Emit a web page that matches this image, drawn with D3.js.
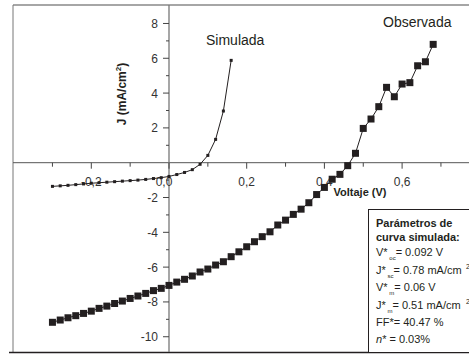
<!DOCTYPE html>
<html>
<head>
<meta charset="utf-8">
<script src="https://cdn.jsdelivr.net/npm/d3@7"></script>
<style>
  body { margin: 0; background: #fff; }
  svg { display: block; font-family: "Liberation Sans", Arial, sans-serif; }
  .tick-label { font-size: 12px; fill: #333; }
  .legend-text { font-size: 11px; fill: #231f20; }
</style>
</head>
<body>
<div id="chart"></div>
<script>
var W = 469, H = 356;

// curva simulada
var simV = [-0.30, -0.28, -0.26, -0.24, -0.22, -0.20, -0.18, -0.16, -0.14, -0.12, -0.10, -0.08,
            -0.06, -0.04, -0.02, 0.00, 0.02, 0.04, 0.06, 0.08, 0.10, 0.12, 0.14, 0.16];
var simJ = [-1.36, -1.33, -1.30, -1.26, -1.22, -1.18, -1.15, -1.12, -1.09, -1.06, -1.03, -1.00,
            -0.96, -0.91, -0.86, -0.79, -0.68, -0.56, -0.40, -0.09, 0.42, 1.34, 2.97, 5.88];

// curva observada
var obsV = [-0.30, -0.28, -0.26, -0.24, -0.22, -0.20, -0.18, -0.16, -0.14, -0.12, -0.10, -0.08,
            -0.06, -0.04, -0.02, 0.00, 0.02, 0.04, 0.06, 0.08, 0.10, 0.12, 0.14, 0.16, 0.18,
            0.20, 0.22, 0.24, 0.26, 0.28, 0.30, 0.32, 0.34, 0.36, 0.38, 0.40, 0.42, 0.44,
            0.46, 0.48, 0.50, 0.52, 0.54, 0.56, 0.58, 0.60, 0.62, 0.64, 0.66, 0.68];
var obsJ = [-9.17, -9.04, -8.91, -8.79, -8.66, -8.53, -8.37, -8.24, -8.09, -7.95, -7.80, -7.66,
            -7.51, -7.35, -7.22, -7.05, -6.86, -6.70, -6.51, -6.28, -6.11, -5.88, -5.69, -5.40, -5.12,
            -4.83, -4.54, -4.25, -3.97, -3.58, -3.30, -2.97, -2.67, -2.30, -1.83, -1.42, -0.95, -0.67,
            -0.17, 0.54, 1.97, 2.51, 3.22, 4.33, 3.79, 4.52, 4.60, 5.57, 5.80, 6.80];

var xTicksMajor = [-0.2, 0.0, 0.2, 0.4, 0.6];
var xTickLabels = ["-0,2", "0,0", "0,2", "0,4", "0,6"];
var xTicksMinor = [-0.3, -0.1, 0.1, 0.3, 0.5, 0.7];
var yTicksMajor = [-10, -8, -6, -4, -2, 2, 4, 6, 8];
var yTicksMinor = [-9, -7, -5, -3, -1, 1, 3, 5, 7];

var legendLines = [
    { main: "V*", sub: "oc", rest: "= 0.092 V", sup: "" },
    { main: "J*", sub: "sc", rest: "= 0.78 mA/cm", sup: "2" },
    { main: "V*", sub: "m", rest: "= 0.06 V", sup: "" },
    { main: "J*", sub: "m", rest: "= 0.51 mA/cm", sup: "2" },
    { main: "FF*= 40.47 %", sub: "", rest: "", sup: "" }
];

var x = d3.scaleLinear().domain([-0.4, 0.8]).range([13.6, 479.8]);
var y = d3.scaleLinear().domain([-10.9, 9.05]).range([352.4, 5.2]);

var svg = d3.select("#chart").append("svg")
    .attr("width", W)
    .attr("height", H);

// marco
svg.append("line").attr("x1", 13).attr("x2", W).attr("y1", 5).attr("y2", 5)
    .attr("stroke", "#888").attr("stroke-width", 1.5);
svg.append("line").attr("x1", 13).attr("x2", 13).attr("y1", 5).attr("y2", 353)
    .attr("stroke", "#777").attr("stroke-width", 1);
svg.append("line").attr("x1", 9).attr("x2", W).attr("y1", 352.5).attr("y2", 352.5)
    .attr("stroke", "#231f20").attr("stroke-width", 1.5);

// ejes por el origen
var x0 = x(0), y0 = y(0);
svg.append("line").attr("x1", 13).attr("x2", W).attr("y1", y0).attr("y2", y0)
    .attr("stroke", "#555").attr("stroke-width", 1);
svg.append("line").attr("x1", x0).attr("x2", x0).attr("y1", 5).attr("y2", 352)
    .attr("stroke", "#777").attr("stroke-width", 1.3);

svg.selectAll(".xtick").data(xTicksMajor).enter().append("line")
    .attr("x1", function(d) { return x(d); }).attr("x2", function(d) { return x(d); })
    .attr("y1", y0).attr("y2", y0 + 6)
    .attr("stroke", "#444");
svg.selectAll(".xtickm").data(xTicksMinor).enter().append("line")
    .attr("x1", function(d) { return x(d); }).attr("x2", function(d) { return x(d); })
    .attr("y1", y0).attr("y2", y0 + 4)
    .attr("stroke", "#444");
svg.selectAll(".ytick").data(yTicksMajor).enter().append("line")
    .attr("x1", x0 - 6).attr("x2", x0)
    .attr("y1", function(d) { return y(d); }).attr("y2", function(d) { return y(d); })
    .attr("stroke", "#444");
svg.selectAll(".ytickm").data(yTicksMinor).enter().append("line")
    .attr("x1", x0 - 3).attr("x2", x0)
    .attr("y1", function(d) { return y(d); }).attr("y2", function(d) { return y(d); })
    .attr("stroke", "#444");

svg.selectAll(".xlab").data(xTicksMajor).enter().append("text")
    .attr("class", "tick-label")
    .attr("x", function(d) { return x(d) + (d === 0 ? -5 : 0); })
    .attr("y", y0 + 23)
    .attr("text-anchor", "middle")
    .text(function(d, i) { return xTickLabels[i]; });

svg.selectAll(".ylab").data(yTicksMajor).enter().append("text")
    .attr("class", "tick-label")
    .attr("x", x0 - 11)
    .attr("y", function(d) { return y(d) + 4.5; })
    .attr("text-anchor", "end")
    .text(function(d) { return d; });

// titulos de ejes
svg.append("text")
    .attr("transform", "translate(126,94) rotate(-90)")
    .attr("text-anchor", "middle")
    .style("font-size", "12px").style("font-weight", "bold").style("fill", "#231f20")
    .html('J (mA/cm<tspan dy="-5" font-size="8px">2</tspan><tspan dy="5">)</tspan>');

svg.append("text")
    .attr("x", 360).attr("y", 196)
    .attr("text-anchor", "middle")
    .style("font-size", "11px").style("font-weight", "bold").style("fill", "#231f20")
    .text("Voltaje (V)");

// curvas
var line = d3.line()
    .x(function(d) { return x(d[0]); })
    .y(function(d) { return y(d[1]); });

var obs = d3.zip(obsV, obsJ);
var sim = d3.zip(simV, simJ);

svg.append("path").datum(obs).attr("d", line)
    .attr("fill", "none").attr("stroke", "#231f20").attr("stroke-width", 1);
svg.selectAll(".obs").data(obs).enter().append("rect")
    .attr("x", function(d) { return x(d[0]) - 3.5; })
    .attr("y", function(d) { return y(d[1]) - 3.5; })
    .attr("width", 7).attr("height", 7)
    .attr("fill", "#231f20");

svg.append("path").datum(sim).attr("d", line)
    .attr("fill", "none").attr("stroke", "#231f20").attr("stroke-width", 1);
svg.selectAll(".sim").data(sim).enter().append("rect")
    .attr("x", function(d) { return x(d[0]) - 1.5; })
    .attr("y", function(d) { return y(d[1]) - 1.5; })
    .attr("width", 3).attr("height", 3)
    .attr("fill", "#231f20");

svg.append("text").attr("x", 206).attr("y", 45)
    .style("font-size", "14px").style("fill", "#231f20").text("Simulada");
svg.append("text").attr("x", 383).attr("y", 27)
    .style("font-size", "14px").style("fill", "#231f20").text("Observada");

// caja de parametros
svg.append("rect").attr("x", 368.5).attr("y", 209.5).attr("width", 110).attr("height", 143)
    .attr("fill", "#fff").attr("stroke", "#231f20").attr("stroke-width", 1);

svg.append("text").attr("class", "legend-text").attr("x", 376).attr("y", 227)
    .style("font-weight", "bold").text("Parámetros de");
svg.append("text").attr("class", "legend-text").attr("x", 376).attr("y", 241)
    .style("font-weight", "bold").text("curva simulada:");

var lg = svg.selectAll(".lgline").data(legendLines).enter().append("text")
    .attr("class", "legend-text")
    .attr("x", 376)
    .attr("y", function(d, i) { return 256 + i * 17.5; });
lg.append("tspan").text(function(d) { return d.main; });
lg.append("tspan").attr("dy", 4).style("font-size", "6px")
    .text(function(d) { return d.sub ? "\u00a0" + d.sub : ""; });
lg.append("tspan").attr("dy", -4).text(function(d) { return d.rest; });
lg.filter(function(d) { return d.sup; }).append("text");
lg.filter(function(d) { return d.sup; }).each(function(d, i) {
    d3.select(this.parentNode).append("text")
        .attr("class", "legend-text")
        .attr("x", 466)
        .attr("y", +d3.select(this).attr("y") - 5)
        .style("font-size", "7px")
        .text(d.sup);
});

var nline = svg.append("text").attr("class", "legend-text").attr("x", 376)
    .attr("y", 256 + 5 * 17.5 - 1);
nline.append("tspan").style("font-style", "italic").text("n");
nline.append("tspan").text("* = 0.03%");
</script>
</body>
</html>
